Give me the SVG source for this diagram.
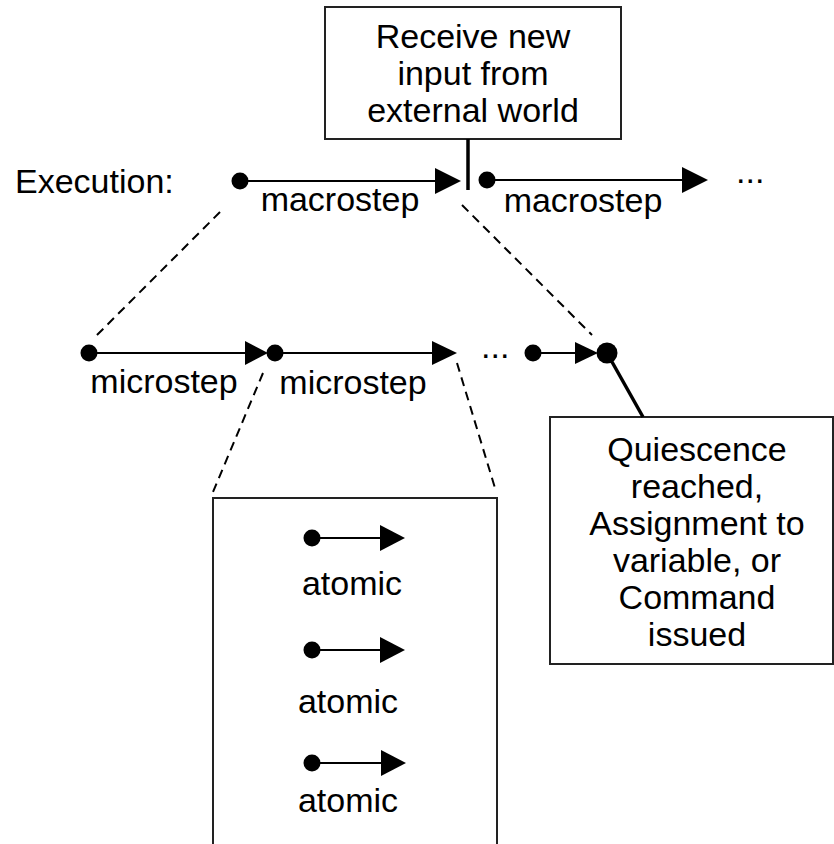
<svg xmlns="http://www.w3.org/2000/svg" width="834" height="844" viewBox="0 0 834 844">
<style>
text{font-family:"Liberation Sans",Arial,sans-serif;font-size:34px;fill:#000}
.c{text-anchor:middle}
.box{fill:#fff;stroke:#222;stroke-width:2}
.ln{stroke:#000;stroke-width:2;fill:none}
.thick{stroke:#000;stroke-width:3.5;fill:none}
.dash{stroke:#000;stroke-width:2;fill:none;stroke-dasharray:9 6}
.hd{fill:#000}
</style>
<rect width="834" height="844" fill="#fff"/>
<g id="input-box">
<rect class="box" x="325" y="7" width="296" height="132"/>
<text class="c" x="473" y="48">Receive new</text>
<text class="c" x="473" y="85">input from</text>
<text class="c" x="473" y="122">external world</text>
</g>
<g id="quiescence-box">
<rect class="box" x="550" y="417" width="283" height="247"/>
<text class="c" x="697" y="461">Quiescence</text>
<text class="c" x="697" y="498">reached,</text>
<text class="c" x="697" y="535">Assignment to</text>
<text class="c" x="697" y="572">variable, or</text>
<text class="c" x="697" y="609">Command</text>
<text class="c" x="697" y="646">issued</text>
</g>
<g id="atomic-box">
<path class="box" d="M213,850 V498 H497 V850"/>
</g>
<g id="labels">
<text x="15" y="193">Execution:</text>
<text class="c" x="340" y="211">macrostep</text>
<text class="c" x="583" y="212">macrostep</text>
<text x="736" y="183">...</text>
<text class="c" x="164" y="393">microstep</text>
<text class="c" x="353" y="394">microstep</text>
<text x="481" y="358">...</text>
<text class="c" x="352" y="595">atomic</text>
<text class="c" x="348" y="713">atomic</text>
<text class="c" x="348" y="812">atomic</text>
</g>
<g id="connectors">
<circle cx="240" cy="181" r="8.5"/>
<line class="ln" x1="240" y1="181" x2="437" y2="181"/>
<polygon class="hd" points="435,168 461,181 435,194"/>
<line class="thick" x1="468" y1="139" x2="468" y2="190"/>
<circle cx="487" cy="180" r="8.5"/>
<line class="ln" x1="487" y1="180" x2="684" y2="180"/>
<polygon class="hd" points="682,167 708,180 682,193"/>
<circle cx="89" cy="353" r="8.5"/>
<line class="ln" x1="89" y1="353" x2="247" y2="353"/>
<polygon class="hd" points="245,341 268,353 245,365"/>
<circle cx="275" cy="353" r="8.5"/>
<line class="ln" x1="275" y1="353" x2="434" y2="353"/>
<polygon class="hd" points="432,341 457,353 432,365"/>
<circle cx="533" cy="353" r="8.5"/>
<line class="ln" x1="533" y1="353" x2="577" y2="353"/>
<polygon class="hd" points="575,342 598,353 575,364"/>
<circle cx="607" cy="353" r="10.5"/>
<line class="thick" x1="607" y1="353" x2="643" y2="417"/>
<line class="dash" x1="220" y1="212" x2="95" y2="337"/>
<line class="dash" x1="462" y1="205" x2="592" y2="335"/>
<line class="dash" x1="263" y1="373" x2="213" y2="492"/>
<line class="dash" x1="457" y1="363" x2="495" y2="488"/>
<circle cx="312" cy="538" r="8.5"/>
<line class="ln" x1="312" y1="538" x2="382" y2="538"/>
<polygon class="hd" points="380,525 405,538 380,551"/>
<circle cx="312" cy="650" r="8.5"/>
<line class="ln" x1="312" y1="650" x2="382" y2="650"/>
<polygon class="hd" points="380,637 405,650 380,663"/>
<circle cx="312" cy="763" r="8.5"/>
<line class="ln" x1="312" y1="763" x2="383" y2="763"/>
<polygon class="hd" points="381,750 406,763 381,776"/>
</g>
</svg>
